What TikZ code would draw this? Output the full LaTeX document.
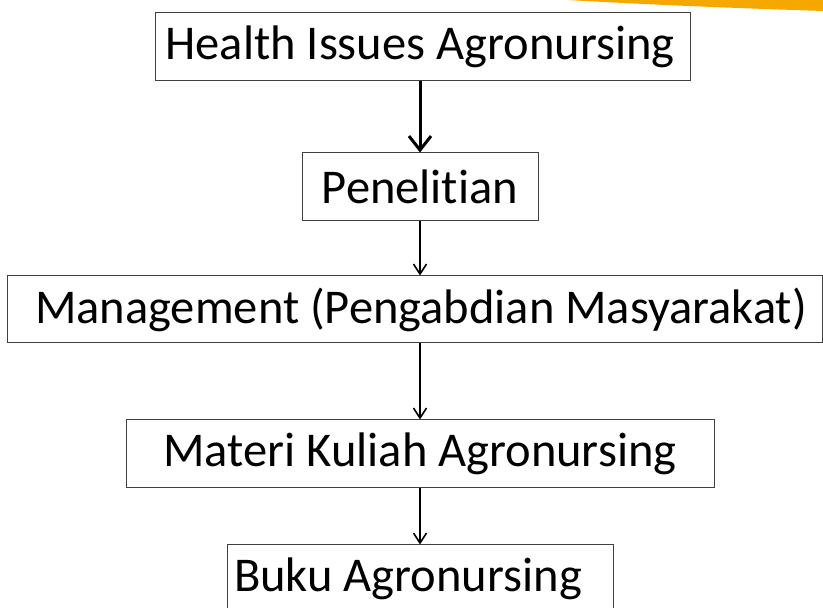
\documentclass[tikz,border=0pt]{standalone}
\usepackage{fontspec}
\setmainfont[Ligatures=NoCommon]{Carlito}
\usetikzlibrary{arrows.meta}
\begin{document}
\begin{tikzpicture}[x=1pt,y=1pt,
  flowbox/.style={draw=black!75, line width=1pt, inner sep=0pt, anchor=center,
    font=\fontsize{48.5}{52}\selectfont, text=black},
  thinarrow/.style={line width=1.6pt, -{Straight Barb[length=10pt,width=13pt,line width=1.6pt]}},
  thickarrow/.style={line width=3pt, -{Straight Barb[length=14pt,width=22pt,line width=3pt]}}]
\useasboundingbox (0,0) rectangle (823,608);
\fill[fill={rgb,255:red,245;green,168;blue,0}] (567,608) -- (823,608) -- (823,597) .. controls (700,601) and (620,605) .. (567,608) -- cycle;
\node[flowbox, minimum width=535pt, minimum height=68pt] (b1) at (422.5,561) {Health Issues Agronursing\hspace*{5pt}};
\node[flowbox, minimum width=236pt, minimum height=68pt] (b2) at (420,421) {Penelitian};
\node[flowbox, minimum width=815pt, minimum height=67pt] (b3) at (414.5,298.5) {\hspace*{13pt}Management (Pengabdian Masyarakat)};
\node[flowbox, minimum width=588pt, minimum height=68pt] (b4) at (420,154) {Materi Kuliah Agronursing};
\node[flowbox, minimum width=386pt, minimum height=68pt] (b5) at (420,29) {Buku Agronursing\hspace*{24pt}};
\draw[thickarrow] (b2.north |- b1.south) -- (b2.north);
\draw[thinarrow] (b2.south) -- (b2.south |- b3.north);
\draw[thinarrow] (b2.south |- b3.south) -- (b4.north);
\draw[thinarrow] (b4.south) -- (b5.north);
\end{tikzpicture}
\end{document}
